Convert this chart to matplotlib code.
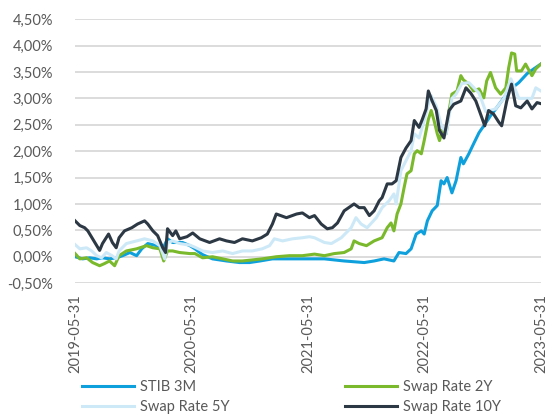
import matplotlib
matplotlib.use("Agg")
import matplotlib.pyplot as plt
import matplotlib.dates as mdates
from matplotlib.ticker import FuncFormatter, MultipleLocator
import pandas as pd

# values (in %)
stib_dates = ["2019-05-31", "2019-06-24", "2019-07-16", "2019-08-07", "2019-08-25", "2019-09-16",
              "2019-10-07", "2019-10-27", "2019-11-19", "2019-12-10", "2019-12-26", "2020-01-14",
              "2020-02-11", "2020-03-01", "2020-03-16", "2020-04-01", "2020-05-02", "2020-05-25",
              "2020-06-10", "2020-07-04", "2020-08-04", "2020-09-17", "2020-10-28", "2020-11-28",
              "2020-12-31", "2021-02-08", "2021-04-02", "2021-05-21", "2021-07-21", "2021-09-21",
              "2021-11-23", "2021-12-24", "2022-01-24", "2022-02-24", "2022-03-12", "2022-04-03",
              "2022-04-19", "2022-05-05", "2022-05-21", "2022-05-30", "2022-06-09", "2022-06-24",
              "2022-07-10", "2022-07-22", "2022-07-31", "2022-08-10", "2022-08-25", "2022-09-07",
              "2022-09-22", "2022-09-30", "2022-10-17", "2022-11-01", "2022-11-18", "2022-12-03",
              "2022-12-24", "2023-01-12", "2023-02-04", "2023-02-26", "2023-03-23", "2023-04-18",
              "2023-05-09", "2023-05-31"]
stib_vals = [0.00, -0.04, -0.02, -0.04, -0.02, -0.04,
             -0.02, 0.02, 0.08, 0.02, 0.15, 0.25,
             0.21, 0.15, 0.34, 0.27, 0.27, 0.21,
             0.15, 0.04, -0.04, -0.08, -0.11, -0.11,
             -0.08, -0.04, -0.04, -0.04, -0.04, -0.08,
             -0.11, -0.08, -0.04, -0.08, 0.08, 0.06,
             0.15, 0.43, 0.49, 0.43, 0.68, 0.87,
             0.97, 1.44, 1.38, 1.50, 1.21, 1.44,
             1.88, 1.76, 1.95, 2.14, 2.35, 2.48,
             2.67, 2.82, 3.01, 3.18, 3.30, 3.47,
             3.56, 3.65]

swap2_dates = ["2019-05-31", "2019-06-15", "2019-07-06", "2019-07-25", "2019-08-16", "2019-08-31",
               "2019-09-16", "2019-10-02", "2019-10-16", "2019-11-08", "2019-12-10", "2020-01-10",
               "2020-01-30", "2020-02-21", "2020-03-04", "2020-03-16", "2020-04-01", "2020-04-23",
               "2020-05-25", "2020-06-10", "2020-07-04", "2020-08-04", "2020-09-05", "2020-10-06",
               "2020-11-06", "2020-12-07", "2021-01-07", "2021-02-20", "2021-04-02", "2021-05-13",
               "2021-06-20", "2021-07-21", "2021-08-21", "2021-09-21", "2021-10-13", "2021-10-22",
               "2021-11-07", "2021-11-30", "2021-12-24", "2022-01-18", "2022-02-03", "2022-02-15",
               "2022-02-24", "2022-03-06", "2022-03-18", "2022-03-28", "2022-04-06", "2022-04-19",
               "2022-04-29", "2022-05-08", "2022-05-21", "2022-05-30", "2022-06-12", "2022-06-21",
               "2022-06-30", "2022-07-10", "2022-07-17", "2022-07-26", "2022-08-07", "2022-08-16",
               "2022-08-25", "2022-09-10", "2022-09-22", "2022-09-30", "2022-10-17", "2022-11-01",
               "2022-11-18", "2022-12-03", "2022-12-12", "2022-12-24", "2023-01-09", "2023-01-25",
               "2023-02-10", "2023-02-19", "2023-02-28", "2023-03-10", "2023-03-16", "2023-03-31",
               "2023-04-13", "2023-04-22", "2023-05-03", "2023-05-15", "2023-05-31"]
swap2_vals = [0.06, -0.04, -0.02, -0.11, -0.17, -0.13,
              -0.08, -0.17, 0.02, 0.11, 0.15, 0.21,
              0.17, 0.15, -0.08, 0.11, 0.11, 0.08,
              0.06, 0.06, -0.02, 0.00, -0.04, -0.08,
              -0.08, -0.06, -0.04, 0.00, 0.02, 0.02,
              0.05, 0.02, 0.06, 0.08, 0.15, 0.30,
              0.25, 0.21, 0.30, 0.36, 0.55, 0.64,
              0.49, 0.81, 1.00, 1.31, 1.57, 1.63,
              1.95, 2.01, 1.95, 2.20, 2.60, 2.77,
              2.58, 2.33, 2.20, 2.40, 2.33, 2.77,
              3.08, 3.14, 3.43, 3.35, 3.27, 3.14,
              3.18, 3.01, 3.33, 3.49, 3.20, 3.08,
              3.20, 3.58, 3.86, 3.84, 3.52, 3.52,
              3.65, 3.55, 3.43, 3.56, 3.65]

swap5_dates = ["2019-05-31", "2019-06-15", "2019-07-06", "2019-07-22", "2019-08-07", "2019-08-22",
               "2019-09-06", "2019-09-24", "2019-10-07", "2019-10-16", "2019-11-08", "2019-12-10",
               "2020-01-04", "2020-01-30", "2020-02-21", "2020-03-07", "2020-03-16", "2020-04-01",
               "2020-04-23", "2020-05-25", "2020-06-10", "2020-07-04", "2020-08-04", "2020-09-05",
               "2020-10-06", "2020-11-06", "2020-12-07", "2021-01-07", "2021-01-30", "2021-02-14",
               "2021-03-12", "2021-04-12", "2021-05-13", "2021-06-04", "2021-06-20", "2021-07-21",
               "2021-08-12", "2021-09-12", "2021-10-13", "2021-10-28", "2021-11-13", "2021-12-02",
               "2021-12-31", "2022-01-18", "2022-02-09", "2022-02-24", "2022-03-03", "2022-03-18",
               "2022-04-03", "2022-04-19", "2022-04-29", "2022-05-14", "2022-05-30", "2022-06-12",
               "2022-06-21", "2022-07-07", "2022-07-22", "2022-08-07", "2022-08-25", "2022-09-07",
               "2022-09-25", "2022-10-17", "2022-11-18", "2022-12-09", "2023-01-09", "2023-02-04",
               "2023-02-26", "2023-03-23", "2023-05-03", "2023-05-15", "2023-05-31"]
swap5_vals = [0.23, 0.15, 0.17, 0.11, 0.02, -0.02,
              0.08, 0.02, -0.04, 0.11, 0.25, 0.30,
              0.34, 0.30, 0.21, -0.04, 0.27, 0.30,
              0.25, 0.22, 0.18, 0.11, 0.08, 0.11,
              0.06, 0.11, 0.11, 0.15, 0.21, 0.34,
              0.30, 0.34, 0.36, 0.38, 0.36, 0.27,
              0.25, 0.36, 0.55, 0.74, 0.62, 0.55,
              0.74, 0.93, 1.06, 1.19, 1.00, 1.63,
              1.82, 2.01, 2.33, 2.25, 2.58, 2.89,
              3.05, 2.85, 2.50, 2.33, 3.00, 3.08,
              3.28, 3.30, 3.10, 2.75, 2.80, 3.00,
              3.37, 3.00, 3.00, 3.20, 3.14]

swap10_dates = ["2019-05-31", "2019-06-15", "2019-06-30", "2019-07-10", "2019-07-25", "2019-08-16",
                "2019-08-25", "2019-09-13", "2019-09-25", "2019-10-07", "2019-10-16", "2019-11-02",
                "2019-11-25", "2019-12-13", "2020-01-04", "2020-01-14", "2020-01-30", "2020-02-14",
                "2020-03-01", "2020-03-10", "2020-03-16", "2020-04-01", "2020-04-11", "2020-04-23",
                "2020-05-16", "2020-06-03", "2020-06-25", "2020-07-26", "2020-08-26", "2020-09-17",
                "2020-10-12", "2020-11-06", "2020-12-07", "2021-01-04", "2021-01-23", "2021-02-08",
                "2021-02-20", "2021-03-24", "2021-04-25", "2021-05-13", "2021-06-04", "2021-06-20",
                "2021-07-11", "2021-07-30", "2021-08-15", "2021-08-31", "2021-09-21", "2021-10-22",
                "2021-11-07", "2021-11-23", "2021-12-09", "2021-12-24", "2022-01-09", "2022-01-18",
                "2022-02-03", "2022-02-18", "2022-03-03", "2022-03-18", "2022-04-03", "2022-04-19",
                "2022-04-29", "2022-05-14", "2022-05-24", "2022-06-05", "2022-06-12", "2022-06-24",
                "2022-07-07", "2022-07-17", "2022-07-31", "2022-08-16", "2022-08-31", "2022-09-22",
                "2022-10-08", "2022-10-23", "2022-11-08", "2022-11-23", "2022-12-06", "2022-12-18",
                "2023-01-03", "2023-01-19", "2023-01-28", "2023-02-13", "2023-02-28", "2023-03-13",
                "2023-03-29", "2023-04-18", "2023-05-03", "2023-05-19", "2023-05-31"]
swap10_vals = [0.68, 0.59, 0.55, 0.49, 0.34, 0.12,
               0.25, 0.43, 0.27, 0.17, 0.36, 0.49,
               0.55, 0.62, 0.68, 0.62, 0.49, 0.40,
               0.17, 0.08, 0.53, 0.40, 0.49, 0.34,
               0.38, 0.45, 0.34, 0.27, 0.34, 0.30,
               0.27, 0.34, 0.30, 0.36, 0.43, 0.62,
               0.81, 0.74, 0.81, 0.83, 0.74, 0.78,
               0.62, 0.53, 0.55, 0.64, 0.87, 1.00,
               0.93, 0.93, 0.78, 0.87, 1.06, 1.12,
               1.38, 1.38, 1.44, 1.88, 2.06, 2.20,
               2.58, 2.45, 2.60, 2.80, 3.14, 2.95,
               2.77, 2.39, 2.25, 2.77, 2.89, 2.95,
               3.20, 3.10, 2.95, 2.70, 2.48, 2.77,
               2.70, 2.55, 2.48, 2.95, 3.27, 2.86,
               2.82, 2.95, 2.80, 2.92, 2.90]

tick_dates = ["2019-05-31", "2020-05-31", "2021-05-31", "2022-05-31", "2023-05-31"]

plt.rcParams['font.family'] = ['Lato', 'DejaVu Sans']

fig = plt.figure(figsize=(5.48, 4.17), dpi=100)
ax = fig.add_axes([0.137, 0.321, 0.850, 0.633])

ax.plot(pd.to_datetime(stib_dates), stib_vals, color="#0ea0dc", lw=2.2, label="STIB 3M")
ax.plot(pd.to_datetime(swap2_dates), swap2_vals, color="#7ab92b", lw=2.2, label="Swap Rate 2Y")
ax.plot(pd.to_datetime(swap5_dates), swap5_vals, color="#cde9f8", lw=2.2, label="Swap Rate 5Y")
ax.plot(pd.to_datetime(swap10_dates), swap10_vals, color="#2c3844", lw=2.2, label="Swap Rate 10Y")

ax.set_ylim(-0.5, 4.5)
ax.yaxis.set_major_locator(MultipleLocator(0.5))
ax.yaxis.set_major_formatter(FuncFormatter(lambda v, p: f"{v:.2f}%".replace(".", ",")))
ax.set_xlim(pd.Timestamp(tick_dates[0]), pd.Timestamp(tick_dates[-1]))
ax.set_xticks(pd.to_datetime(tick_dates))
ax.xaxis.set_major_formatter(mdates.DateFormatter("%Y-%m-%d"))
plt.setp(ax.get_xticklabels(), rotation=90)

ax.grid(axis="y", color="#d9d9d9", lw=1.3)
ax.set_axisbelow(True)
for s in ax.spines.values():
    s.set_visible(False)
ax.tick_params(axis="both", length=0, colors="#595959", labelsize=10.5)
ax.tick_params(axis="y", pad=16)
ax.tick_params(axis="x", pad=8)

h, l = ax.get_legend_handles_labels()
order = [0, 2, 1, 3]
fig.legend([h[i] for i in order], [l[i] for i in order], ncol=2, frameon=False,
           loc="upper left", bbox_to_anchor=(0.125, 0.12), handlelength=3.6,
           columnspacing=7.9, handletextpad=0.4, labelspacing=0.4,
           fontsize=10.5, labelcolor="#595959")

fig.savefig("out.png", dpi=100)
